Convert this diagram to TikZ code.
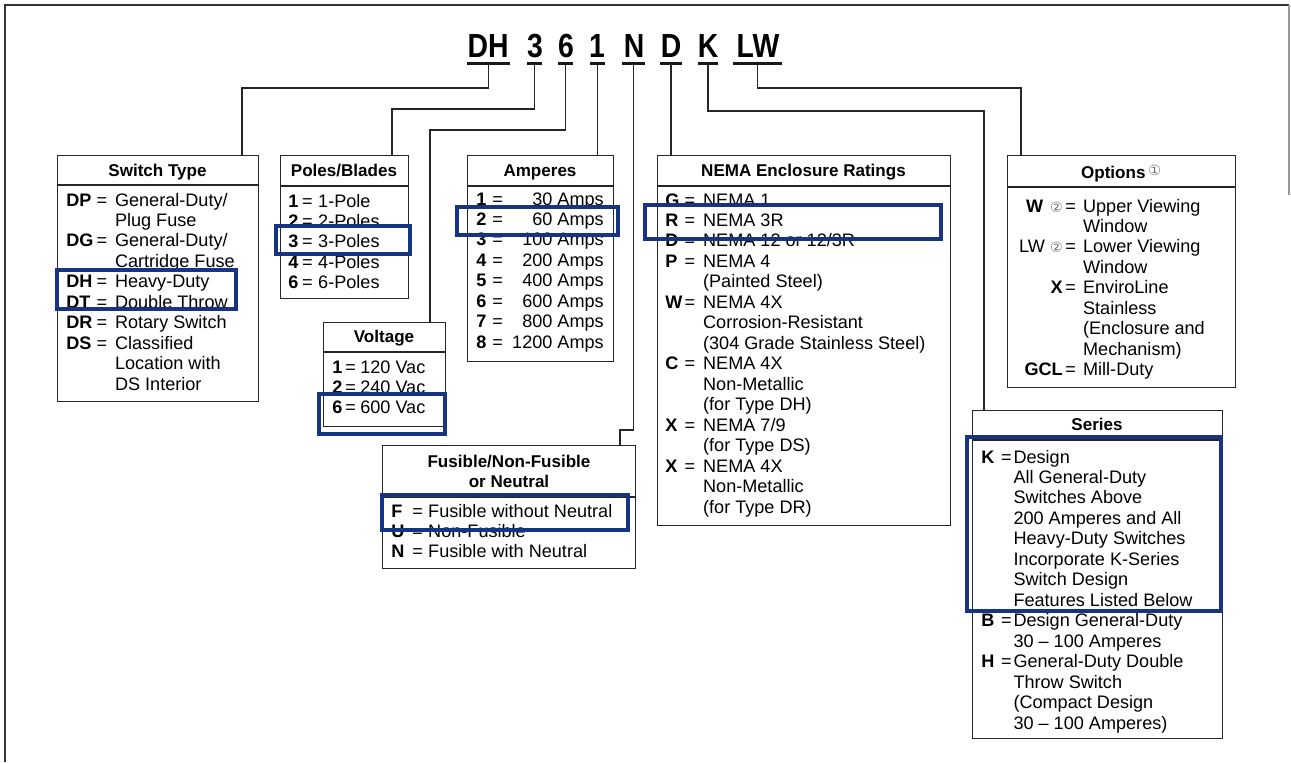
\documentclass[tikz,border=0pt]{standalone}
\usepackage{fontspec}
\usepackage{graphicx}
\usepackage{array}
\setmainfont{Liberation Sans}
\newfontfamily\symf{DejaVu Sans}
\definecolor{hlblue}{RGB}{22,52,130}
\newcommand\cnum[1]{{\symf\mdseries\fontsize{8}{8}\selectfont\color{black!55}#1}}
\begin{document}
\begin{tikzpicture}[x=0.02cm,y=-0.02cm,
  box/.style={draw=black!85,line width=0.8pt,anchor=north west,inner sep=0pt},
  sep/.style={draw=black!85,line width=0.8pt},
  hd/.style={anchor=base,inner sep=0pt,font=\fontsize{9.7}{11.65}\selectfont\bfseries},
  bd/.style={anchor=base west,inner sep=0pt,font=\fontsize{10.3}{11.65}\selectfont},
  ttl/.style={anchor=base,inner sep=0pt,font=\fontsize{19}{19}\selectfont\bfseries},
  ul/.style={fill=black!90,inner sep=0pt,minimum height=0.06cm},
  conn/.style={draw=black!85,line width=0.7pt},
  hl/.style={draw=hlblue,line width=2.3pt},
  frame/.style={draw=black!80,line width=1pt}]
\useasboundingbox (0,0) rectangle (1291,762);
\fill[white] (0,0) rectangle (1291,762);
% frame
\draw[frame] (5,762) -- (5,5) -- (1289,5);
\draw[draw=black!40,line width=0.6pt] (1289,5) -- (1289,195);

% title
\node[ttl] (tDH) at (488,57) {\scalebox{0.85}[1]{DH}};
\node[ttl] (t3) at (535,57) {\scalebox{0.85}[1]{3}};
\node[ttl] (t6) at (566,57) {\scalebox{0.85}[1]{6}};
\node[ttl] (t1) at (597,57) {\scalebox{0.85}[1]{1}};
\node[ttl] (tN) at (634,57) {\scalebox{0.85}[1]{N}};
\node[ttl] (tD) at (671,57) {\scalebox{0.85}[1]{D}};
\node[ttl] (tK) at (708,57) {\scalebox{0.85}[1]{K}};
\node[ttl] (tLW) at (758,57) {\scalebox{0.85}[1]{LW}};
\node[ul,minimum width=0.86cm] (uDH) at (488.5,63) {};
\node[ul,minimum width=0.30cm] (u3) at (534.5,63) {};
\node[ul,minimum width=0.30cm] (u6) at (565.5,63) {};
\node[ul,minimum width=0.30cm] (u1) at (597.5,63) {};
\node[ul,minimum width=0.46cm] (uN) at (633.5,63) {};
\node[ul,minimum width=0.44cm] (uD) at (671,63) {};
\node[ul,minimum width=0.40cm] (uK) at (708,63) {};
\node[ul,minimum width=0.98cm] (uLW) at (757.5,63) {};

% boxes
\node[box,minimum width=4.02cm,minimum height=4.92cm] (st) at (57,155) {};
\node[box,minimum width=2.56cm,minimum height=2.86cm] (pb) at (280,155) {};
\node[box,minimum width=2.44cm,minimum height=2.08cm] (vo) at (323,322) {};
\node[box,minimum width=2.92cm,minimum height=4.12cm] (am) at (467,155) {};
\node[box,minimum width=5.86cm,minimum height=7.40cm] (ne) at (657,155) {};
\node[box,minimum width=4.56cm,minimum height=4.64cm] (op) at (1007,155) {};
\node[box,minimum width=5.00cm,minimum height=6.56cm] (se) at (972,410) {};
\node[box,minimum width=5.06cm,minimum height=2.46cm] (fu) at (382,445) {};

% header separators
\draw[sep] (st.west |- 0,185) -- (st.east |- 0,185);
\draw[sep] (pb.west |- 0,186) -- (pb.east |- 0,186);
\draw[sep] (vo.west |- 0,352) -- (vo.east |- 0,352);
\draw[sep] (am.west |- 0,186) -- (am.east |- 0,186);
\draw[sep] (ne.west |- 0,186) -- (ne.east |- 0,186);
\draw[sep] (op.west |- 0,187) -- (op.east |- 0,187);
\draw[sep] (se.west |- 0,440) -- (se.east |- 0,440);
\draw[sep] (fu.west |- 0,497) -- (fu.east |- 0,497);

% connectors
\draw[conn] (uDH.south) |- (242,88) -- (st.north -| 242,0);
\draw[conn] (u3.south) |- (392,109) -- (pb.north -| 392,0);
\draw[conn] (u6.south) |- (430,130) -- (vo.north -| 430,0);
\draw[conn] (u1.south) -- (am.north -| u1.south);
\draw[conn] (uN.south) |- (620,430) -- (fu.north -| 620,0);
\draw[conn] (uD.south) -- (ne.north -| uD.south);
\draw[conn] (uK.south) |- (984,111) -- (se.north -| 984,0);
\draw[conn] (uLW.south) |- (1021,88) -- (op.north -| 1021,0);

% headers
\node[hd] (hst) at (157.5,176) {Switch Type};
\node[hd] (hpb) at (344,176) {Poles/Blades};
\node[hd] (hvo) at (384,342) {Voltage};
\node[hd] (ham) at (540,176) {Amperes};
\node[hd] (hne) at (803.5,176) {NEMA Enclosure Ratings};
\node[hd] (hop) at (1121,178) {Options\,\raisebox{1.5pt}{\cnum{①}}};
\node[hd] (hse) at (1097,430) {Series};
\node[hd] (hfu) at (509,467) {\begin{tabular}[t]{@{}c@{}}Fusible/Non-Fusible\\or Neutral\end{tabular}};

% bodies
\node[bd] (bst) at (66,206) {\begin{tabular}[t]{@{}p{17.2pt}@{}p{10.5pt}@{}l@{}}
\textbf{DP} & = & General-Duty/\\
 & & Plug Fuse\\
\textbf{DG} & = & General-Duty/\\
 & & Cartridge Fuse\\
\textbf{DH} & = & Heavy-Duty\\
\textbf{DT} & = & Double Throw\\
\textbf{DR} & = & Rotary Switch\\
\textbf{DS} & = & Classified\\
 & & Location with\\
 & & DS Interior
\end{tabular}};

\node[bd] (bpb) at (288,207) {\begin{tabular}[t]{@{}p{7.9pt}@{}p{9.1pt}@{}l@{}}
\textbf{1} & = & 1-Pole\\
\textbf{2} & = & 2-Poles\\
\textbf{3} & = & 3-Poles\\
\textbf{4} & = & 4-Poles\\
\textbf{6} & = & 6-Poles
\end{tabular}};

\node[bd] (bvo) at (332,373) {\begin{tabular}[t]{@{}p{7.4pt}@{}p{8.5pt}@{}l@{}}
\textbf{1} & = & 120 Vac\\
\textbf{2} & = & 240 Vac\\
\textbf{6} & = & 600 Vac
\end{tabular}};

\node[bd] (bam) at (476,205) {\begin{tabular}[t]{@{}p{9.1pt}@{}p{11.3pt}@{}r@{}}
\textbf{1} & = & 30 Amps\\
\textbf{2} & = & 60 Amps\\
\textbf{3} & = & 100 Amps\\
\textbf{4} & = & 200 Amps\\
\textbf{5} & = & 400 Amps\\
\textbf{6} & = & 600 Amps\\
\textbf{7} & = & 800 Amps\\
\textbf{8} & = & 1200 Amps
\end{tabular}};

\node[bd] (bne) at (665,206) {\begin{tabular}[t]{@{}p{11pt}@{}p{10.5pt}@{}l@{}}
\textbf{G} & = & NEMA 1\\
\textbf{R} & = & NEMA 3R\\
\textbf{D} & = & NEMA 12 or 12/3R\\
\textbf{P} & = & NEMA 4\\
 & & (Painted Steel)\\
\textbf{W} & = & NEMA 4X\\
 & & Corrosion-Resistant\\
 & & (304 Grade Stainless Steel)\\
\textbf{C} & = & NEMA 4X\\
 & & Non-Metallic\\
 & & (for Type DH)\\
\textbf{X} & = & NEMA 7/9\\
 & & (for Type DS)\\
\textbf{X} & = & NEMA 4X\\
 & & Non-Metallic\\
 & & (for Type DR)
\end{tabular}};

\node[bd] (bop) at (1000,212) {\begin{tabular}[t]{@{}>{\raggedleft\arraybackslash}p{35.5pt}@{}p{11.6pt}@{}l@{}}
\textbf{W}\hspace{4pt}\cnum{②} & \hspace{1.5pt}= & Upper Viewing\\
 & & Window\\
LW\hspace{3pt}\cnum{②} & \hspace{1.5pt}= & Lower Viewing\\
 & & Window\\
\textbf{X} & \hspace{1.5pt}= & EnviroLine\\
 & & Stainless\\
 & & (Enclosure and\\
 & & Mechanism)\\
\textbf{GCL} & \hspace{1.5pt}= & Mill-Duty
\end{tabular}};

\node[bd] (bse) at (981,463) {\begin{tabular}[t]{@{}p{11.3pt}@{}p{7pt}@{}l@{}}
\textbf{K} & = & Design\\
 & & All General-Duty\\
 & & Switches Above\\
 & & 200 Amperes and All\\
 & & Heavy-Duty Switches\\
 & & Incorporate K-Series\\
 & & Switch Design\\
 & & Features Listed Below\\
\textbf{B} & = & Design General-Duty\\
 & & 30 -- 100 Amperes\\
\textbf{H} & = & General-Duty Double\\
 & & Throw Switch\\
 & & (Compact Design\\
 & & 30 -- 100 Amperes)
\end{tabular}};

\node[bd] (bfu) at (391,517) {\begin{tabular}[t]{@{}p{11.9pt}@{}p{9.1pt}@{}l@{}}
\textbf{F} & = & Fusible without Neutral\\
\textbf{U} & = & Non-Fusible\\
\textbf{N} & = & Fusible with Neutral
\end{tabular}};

% highlights
\draw[hl] (57,270) rectangle (236,309);
\draw[hl] (276,226) rectangle (410,254);
\draw[hl] (319,394) rectangle (445,434);
\draw[hl] (457,207) rectangle (618,235);
\draw[hl] (645,205) rectangle (941,239);
\draw[hl] (382,495) rectangle (628,530);
\draw[hl] (967,437) rectangle (1221,611);
\end{tikzpicture}
\end{document}
